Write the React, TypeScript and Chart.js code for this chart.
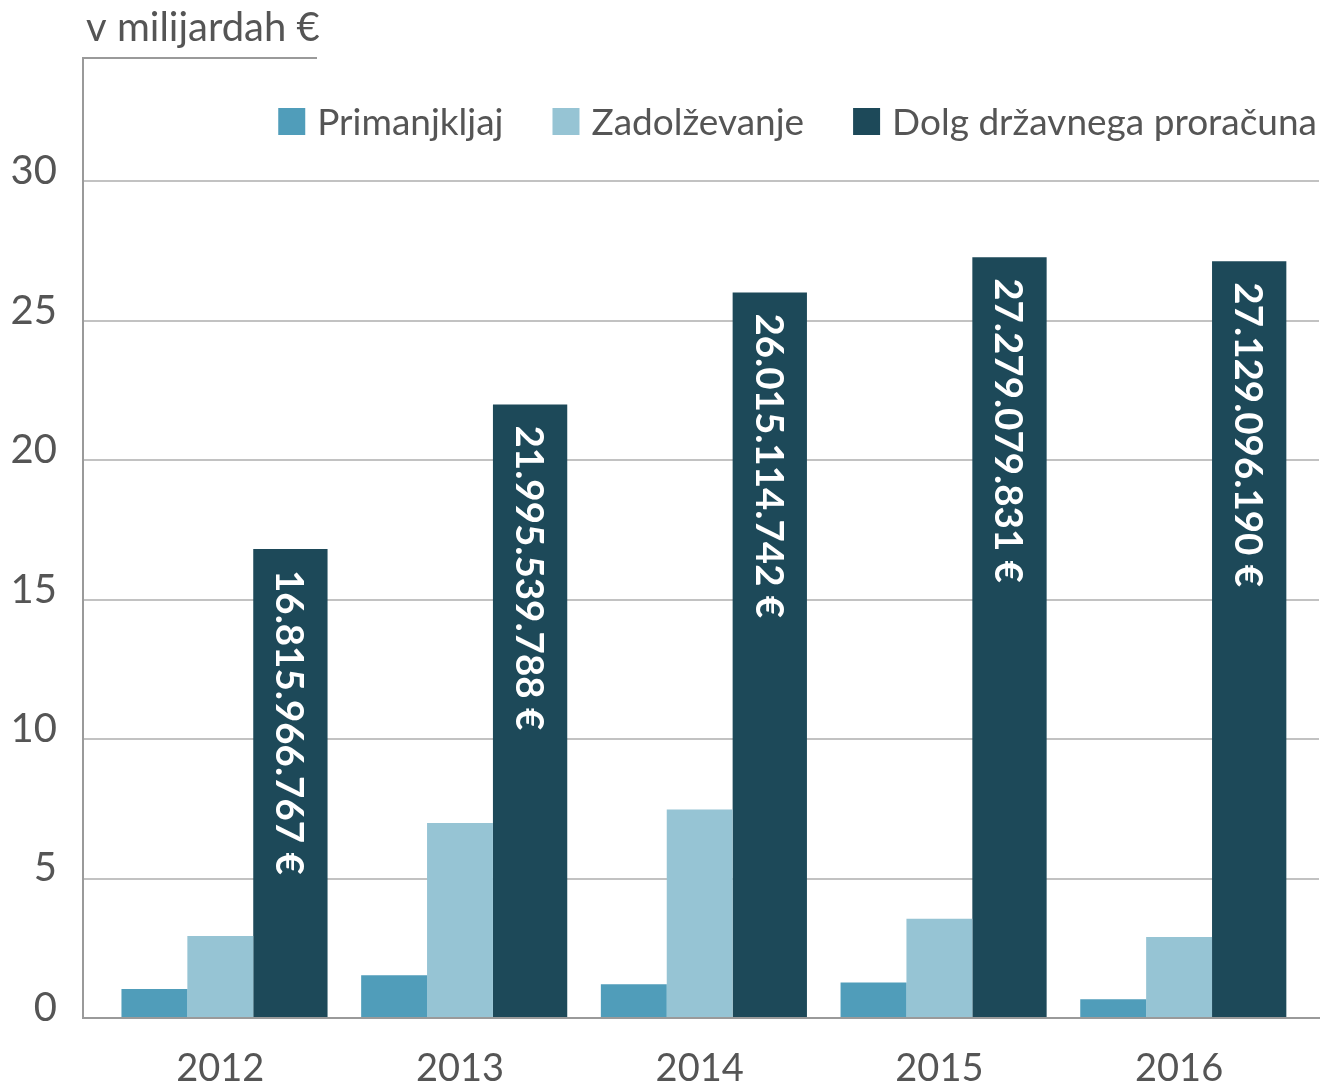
import { useEffect, useRef } from 'react';
import { Chart, registerables } from 'chart.js';

Chart.register(...registerables);

// ---- data ----
const years = ['2012', '2013', '2014', '2015', '2016'];
const deficit = [1.04, 1.53, 1.21, 1.27, 0.67];
const borrowing = [2.94, 6.99, 7.48, 3.56, 2.9];
const debtEur = [16815966767, 21995539788, 26015114742, 27279079831, 27129096190];
const yTicks = [0, 5, 10, 15, 20, 25, 30];
const seriesNames = ['Primanjkljaj', 'Zadolževanje', 'Dolg državnega proračuna'];
const seriesColors = ['#509dba', '#96c4d4', '#1d4959'];
const axisTitle = 'v milijardah €';

// ---- style / layout ----
const FONT = 'Lato';
const TEXT = '#555555';
const AXIS = '#9a9a9a';
const GRID = '#c2c2c2';
const X_MIN = 2011.4272;
const X_MAX = 2016.5837;
const Y_MAX = 34.42;
const SHIFT_P = 0.2749; // primanjkljaj bar sits one bar-width left of the year centre
const SHIFT_D = -0.29245; // debt bar sits right of the year centre
const BAR_P = 0.2749;
const BAR_Z = 0.2749;
const BAR_D = 0.31;

const fmtEur = (v: number) => String(v).replace(/\B(?=(\d{3})+(?!\d))/g, '.') + ' €';

const decorPlugin = {
  id: 'decor',
  afterDatasetsDraw(chart: any) {
    const { ctx } = chart;
    const meta = chart.getDatasetMeta(2);
    ctx.save();
    ctx.font = `bold 38.5px ${FONT}`;
    ctx.fillStyle = '#ffffff';
    ctx.textAlign = 'left';
    ctx.textBaseline = 'alphabetic';
    meta.data.forEach((el: any, i: number) => {
      ctx.save();
      ctx.translate(el.x, el.y + 21);
      ctx.rotate(Math.PI / 2);
      ctx.fillText(fmtEur(debtEur[i]), 0, 14);
      ctx.restore();
    });
    ctx.restore();
  },
  afterDraw(chart: any) {
    const { ctx, chartArea } = chart;
    ctx.save();
    // axis title
    ctx.font = `40px ${FONT}`;
    ctx.fillStyle = TEXT;
    ctx.textAlign = 'left';
    ctx.textBaseline = 'alphabetic';
    ctx.fillText(axisTitle, 86, 41);
    // title underline
    ctx.strokeStyle = AXIS;
    ctx.lineWidth = 2;
    ctx.beginPath();
    ctx.moveTo(chartArea.left - 1, chartArea.top);
    ctx.lineTo(317, chartArea.top);
    ctx.stroke();
    // legend (right aligned)
    ctx.font = `37px ${FONT}`;
    const items = chart.data.datasets.filter((d: any) => d.label);
    const box = 27;
    const gapBoxText = 12;
    const gapItems = 49;
    let x = 1317;
    const positions: { x: number; ds: any }[] = [];
    for (let i = items.length - 1; i >= 0; i--) {
      const w = ctx.measureText(items[i].label).width;
      const start = x - w - gapBoxText - box;
      positions.unshift({ x: start, ds: items[i] });
      x = start - gapItems;
    }
    positions.forEach(({ x: px, ds }) => {
      ctx.fillStyle = ds.backgroundColor;
      ctx.fillRect(px, 108, box, box);
      ctx.fillStyle = TEXT;
      ctx.fillText(ds.label, px + box + gapBoxText, 135);
    });
    ctx.restore();
  },
};

export default function App() {
  const ref = useRef<HTMLCanvasElement | null>(null);

  useEffect(() => {
    let chart: Chart | null = null;
    let cancelled = false;
    const make = () => {
      if (cancelled || !ref.current) return;
      const yearTicks = (axis: any) => {
        axis.ticks = years.map((y) => ({ value: Number(y) }));
      };
      const hiddenAxis = (shift: number) => ({
        type: 'linear',
        min: X_MIN + shift,
        max: X_MAX + shift,
        offset: false,
        display: false,
        ticks: { stepSize: 1 },
        afterBuildTicks: yearTicks,
      });
      chart = new Chart(ref.current, {
        type: 'bar',
        data: {
          labels: years.map(Number),
          datasets: [
            { label: seriesNames[0], data: deficit, backgroundColor: seriesColors[0], xAxisID: 'xP', grouped: false, categoryPercentage: 1, barPercentage: BAR_P },
            { label: seriesNames[1], data: borrowing, backgroundColor: seriesColors[1], xAxisID: 'x', grouped: false, categoryPercentage: 1, barPercentage: BAR_Z },
            { label: seriesNames[2], data: debtEur.map((v) => v / 1e9), backgroundColor: seriesColors[2], xAxisID: 'xD', grouped: false, categoryPercentage: 1, barPercentage: BAR_D },
          ] as any,
        },
        options: {
          responsive: false,
          animation: false,
          devicePixelRatio: 1,
          events: [],
          layout: { padding: { top: 58, right: 4, left: 0, bottom: 0 } },
          plugins: { legend: { display: false }, tooltip: { enabled: false } },
          scales: {
            x: {
              type: 'linear',
              min: X_MIN,
              max: X_MAX,
              offset: false,
              z: 1,
              grid: { display: false },
              border: { display: true, color: AXIS, width: 2 },
              ticks: {
                stepSize: 1,
                padding: 20,
                color: TEXT,
                font: { family: FONT, size: 38 },
                maxRotation: 0,
                autoSkip: false,
                callback: (_v: any, i: number) => years[i],
              },
              afterBuildTicks: yearTicks,
              afterFit: (s: any) => { s.height = 70; },
            } as any,
            xP: hiddenAxis(SHIFT_P) as any,
            xD: hiddenAxis(SHIFT_D) as any,
            y: {
              min: 0,
              max: Y_MAX,
              ticks: {
                stepSize: 5,
                padding: 26,
                labelOffset: -10,
                color: TEXT,
                font: { family: FONT, size: 40 },
              },
              afterBuildTicks: (axis: any) => { axis.ticks = yTicks.map((v) => ({ value: v })); },
              grid: {
                drawTicks: false,
                lineWidth: 2,
                color: (c: any) => (c.tick && c.tick.value === 0 ? 'rgba(0,0,0,0)' : GRID),
              },
              border: { color: AXIS, width: 2 },
              afterFit: (s: any) => { s.width = 83; },
            } as any,
          },
        },
        plugins: [decorPlugin],
      });
    };
    const fontsReady = (document as any).fonts
      ? Promise.all([
          (document as any).fonts.load(`40px ${FONT}`),
          (document as any).fonts.load(`bold 39px ${FONT}`),
        ]).catch(() => null)
      : Promise.resolve(null);
    fontsReady.then(make);
    return () => {
      cancelled = true;
      if (chart) chart.destroy();
    };
  }, []);

  return (
    <div style={{ position: 'fixed', left: 0, top: 0, width: 1323, height: 1088, background: '#ffffff' }}>
      <canvas ref={ref} width={1323} height={1088} style={{ display: 'block', width: 1323, height: 1088 }} />
    </div>
  );
}
